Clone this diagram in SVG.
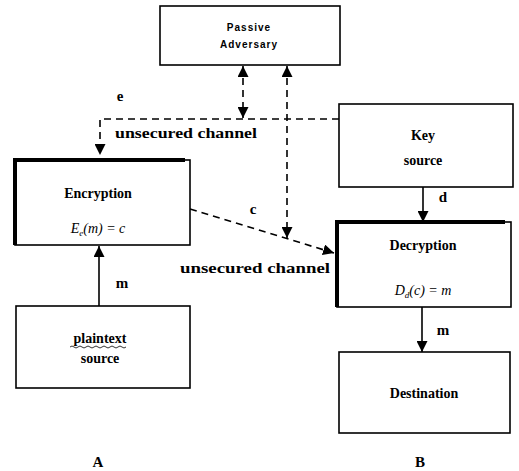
<svg xmlns="http://www.w3.org/2000/svg" width="519" height="471" viewBox="0 0 519 471">
  <style>
    .box { fill: #fff; stroke: #000; stroke-width: 1.6; }
    .heavy { stroke: #000; stroke-width: 4; fill: none; }
    .title { font-family: "Liberation Serif", "Times New Roman", serif; font-weight: bold; font-size: 14px; fill: #000; text-anchor: middle; }
    .small { font-family: "Liberation Sans", Arial, sans-serif; font-weight: bold; font-size: 10px; fill: #000; text-anchor: middle; letter-spacing: 1px; }
    .math { font-family: "Liberation Serif", "Times New Roman", serif; font-style: italic; font-size: 14px; fill: #000; text-anchor: middle; }
    .label { font-family: "Liberation Serif", "Times New Roman", serif; font-weight: bold; font-size: 15px; fill: #000; text-anchor: middle; }
    .dash { stroke: #000; stroke-width: 1.6; fill: none; stroke-dasharray: 7 5; }
    .solid { stroke: #000; stroke-width: 1.6; fill: none; }
  </style>
  <defs>
    <marker id="tri" markerUnits="userSpaceOnUse" markerWidth="11" markerHeight="11" viewBox="0 0 10 10" refX="10" refY="5" orient="auto-start-reverse">
      <path d="M0,0 L10,5 L0,10 z" fill="#000"/>
    </marker>
  </defs>

  <rect width="519" height="471" fill="#fff"/>

  <!-- connectors -->
  <g id="connectors">
    <!-- key e over the unsecured channel to the encryption box -->
    <path class="dash" d="M339,119 H100 V155" marker-end="url(#tri)"/>
    <!-- adversary taps on the channel -->
    <path class="dash" d="M243,66 V118" marker-start="url(#tri)" marker-end="url(#tri)"/>
    <path class="dash" d="M287,66 V238" marker-start="url(#tri)" marker-end="url(#tri)"/>
    <!-- ciphertext c -->
    <path class="dash" d="M190,209 L334,253" marker-end="url(#tri)"/>
    <!-- key d -->
    <path class="solid" d="M423,187 V222" marker-end="url(#tri)"/>
    <!-- plaintext m into encryption -->
    <path class="solid" d="M99,306 V246" marker-end="url(#tri)"/>
    <!-- recovered m to destination -->
    <path class="solid" d="M422,307 V352" marker-end="url(#tri)"/>

    <text class="label" x="120" y="101">e</text>
    <text class="label" x="186" y="138" font-size="16" textLength="142" lengthAdjust="spacingAndGlyphs">unsecured channel</text>
    <text class="label" x="253" y="214">c</text>
    <text class="label" x="255" y="273" font-size="16" textLength="150" lengthAdjust="spacingAndGlyphs">unsecured channel</text>
    <text class="label" x="443" y="202">d</text>
    <text class="label" x="122" y="288">m</text>
    <text class="label" x="443" y="335">m</text>
  </g>

  <g id="passive-adversary">
    <rect class="box" x="160" y="6" width="180" height="59" stroke-width="2"/>
    <text class="small" x="249" y="31">Passive</text>
    <text class="small" x="249" y="48">Adversary</text>
  </g>

  <g id="encryption">
    <rect class="box" x="15" y="160" width="175" height="85"/>
    <path class="heavy" d="M15,245 V160 H185"/>
    <text class="title" x="98" y="198">Encryption</text>
    <text class="math" x="98" y="233">E<tspan font-size="9" dy="3">e</tspan><tspan dy="-3">(m) = c</tspan></text>
  </g>

  <g id="key-source">
    <rect class="box" x="339" y="104" width="174" height="83"/>
    <text class="title" x="423" y="140">Key</text>
    <text class="title" x="423" y="165">source</text>
  </g>

  <g id="decryption">
    <rect class="box" x="337" y="222" width="174" height="85"/>
    <path class="heavy" d="M337,307 V222 H505"/>
    <text class="title" x="423" y="250">Decryption</text>
    <text class="math" x="423" y="295">D<tspan font-size="9" dy="3">d</tspan><tspan dy="-3">(c) = m</tspan></text>
  </g>

  <g id="plaintext-source">
    <rect class="box" x="16" y="306" width="174" height="82"/>
    <text class="title" x="100" y="343">plaintext</text>
    <path d="M70,347 q2,-2 4,0 t4,0 t4,0 t4,0 t4,0 t4,0 t4,0 t4,0 t4,0 t4,0 t4,0 t4,0 t4,0 t4,0" stroke="#000" stroke-width="0.8" fill="none"/>
    <text class="title" x="100" y="363">source</text>
  </g>

  <g id="destination">
    <rect class="box" x="339" y="352" width="171" height="81"/>
    <text class="title" x="424" y="398">Destination</text>
  </g>

  <text class="label" x="98" y="467">A</text>
  <text class="label" x="420" y="467">B</text>
</svg>
